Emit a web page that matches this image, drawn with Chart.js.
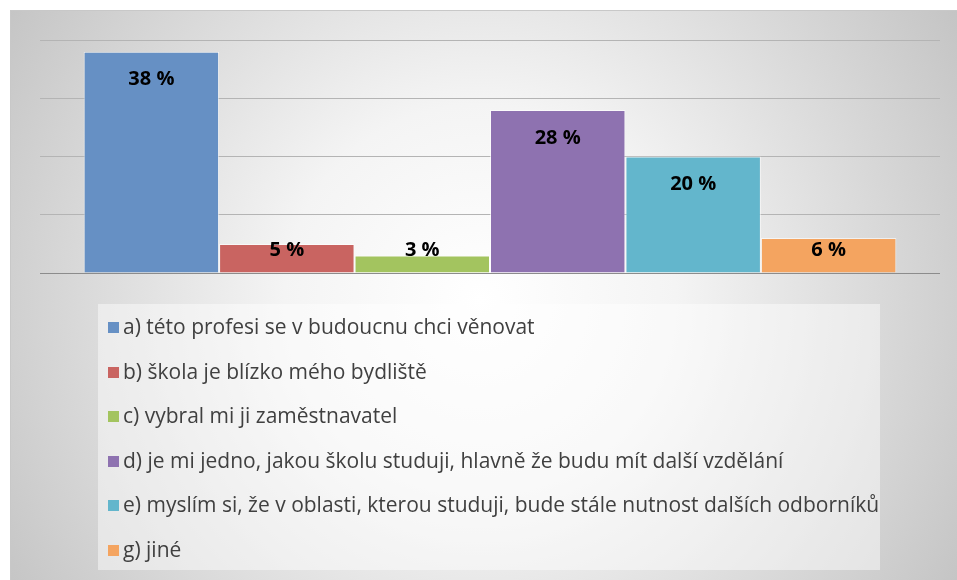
<!DOCTYPE html>
<html>
<head>
<meta charset="utf-8">
<script src="https://cdn.jsdelivr.net/npm/chart.js@4"></script>
<style>
    html, body { margin: 0; padding: 0; background: #fff; }
    #wrap { width: 957px; height: 580px; }
</style>
</head>
<body>
<div id="wrap"><canvas id="reasonChart" width="957" height="580"></canvas></div>
<script>
const answerLabels = [
    'a) této profesi se v budoucnu chci věnovat',
    'b) škola je blízko mého bydliště',
    'c) vybral mi ji zaměstnavatel',
    'd) je mi jedno, jakou školu studuji, hlavně že budu mít další vzdělání',
    'e) myslím si, že v oblasti, kterou studuji, bude stále nutnost dalších odborníků',
    'g) jiné'
];
const percentValues = [38, 5, 3, 28, 20, 6];
const barColors = ['#6690c4', '#c96461', '#a3c45f', '#8e72b0', '#63b6cc', '#f4a460'];
const yTicks = [0, 10, 20, 30, 40];

const backgroundPlugin = {
    id: 'backgroundPlugin',
    beforeDraw: (chart) => {
        const ctx = chart.ctx;
        ctx.save();
        ctx.fillStyle = '#ffffff';
        ctx.fillRect(0, 0, chart.width, chart.height);
        const grad = ctx.createRadialGradient(480, 300, 0, 480, 300, 560);
        grad.addColorStop(0, '#ffffff');
        grad.addColorStop(0.35, '#f4f4f4');
        grad.addColorStop(1, '#c4c4c4');
        ctx.fillStyle = grad;
        ctx.fillRect(10, 10, chart.width - 10, chart.height - 10);
        ctx.strokeStyle = '#c8c8c8';
        ctx.lineWidth = 1;
        ctx.strokeRect(10.5, 10.5, chart.width, chart.height);
        ctx.restore();
    }
};

const valueLabelPlugin = {
    id: 'valueLabelPlugin',
    afterDatasetsDraw: (chart) => {
        const ctx = chart.ctx;
        const base = chart.scales.y.getPixelForValue(0);
        ctx.save();
        ctx.font = 'bold 20px "Open Sans"';
        ctx.fillStyle = '#000';
        ctx.textAlign = 'center';
        ctx.textBaseline = 'middle';
        chart.data.datasets.forEach((ds, i) => {
            const bar = chart.getDatasetMeta(i).data[0];
            const y = Math.min(bar.y + 28, base - 23);
            ctx.fillText(ds.data[0] + ' %', bar.x, y);
        });
        ctx.restore();
    }
};

const legendBoxPlugin = {
    id: 'legendBoxPlugin',
    afterDraw: (chart) => {
        const ctx = chart.ctx;
        ctx.save();
        ctx.fillStyle = 'rgba(255,255,255,0.45)';
        ctx.fillRect(98, 304, 782, 266);
        ctx.font = '21px "Open Sans"';
        ctx.textBaseline = 'middle';
        ctx.textAlign = 'left';
        chart.data.datasets.forEach((ds, i) => {
            const y = 327 + i * 44.6;
            ctx.fillStyle = ds.backgroundColor;
            ctx.fillRect(108, Math.round(y - 5), 11, 11);
            ctx.fillStyle = '#404040';
            ctx.fillText(ds.label, 123, y + 1);
        });
        ctx.restore();
    }
};

const ctx = document.getElementById('reasonChart').getContext('2d');

new Chart(ctx, {
    type: 'bar',
    data: {
        labels: [''],
        datasets: answerLabels.map((label, i) => ({
            label: label,
            data: [percentValues[i]],
            backgroundColor: barColors[i],
            borderColor: 'rgba(255,255,255,0.6)',
            borderWidth: 1,
            categoryPercentage: 0.903,
            barPercentage: 1.0
        }))
    },
    options: {
        responsive: false,
        animation: false,
        layout: {
            padding: { left: 40, top: 40, right: 17, bottom: 307 }
        },
        plugins: {
            legend: { display: false },
            tooltip: { enabled: false },
            title: { display: false }
        },
        scales: {
            x: {
                display: false
            },
            y: {
                min: 0,
                max: 40,
                afterBuildTicks: (axis) => {
                    axis.ticks = yTicks.map(v => ({ value: v }));
                },
                ticks: { display: false },
                border: { display: false },
                grid: {
                    drawTicks: false,
                    color: (c) => c.tick.value === 0 ? '#8c8c8c' : '#b4b4b4'
                }
            }
        }
    },
    plugins: [backgroundPlugin, valueLabelPlugin, legendBoxPlugin]
});
</script>
</body>
</html>
